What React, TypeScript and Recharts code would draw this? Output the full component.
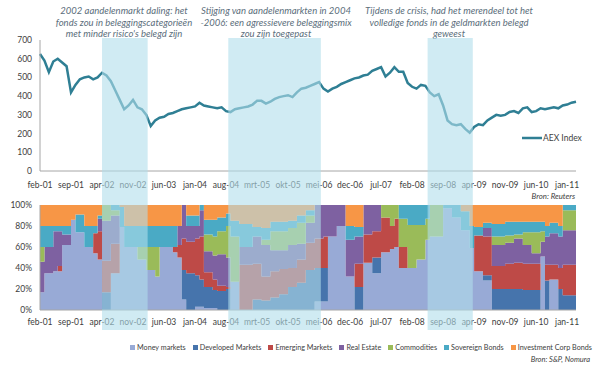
import { Area, AreaChart, ComposedChart, Line, LineChart, ReferenceArea, XAxis, YAxis } from "recharts";

const FONT = "Lato, 'Open Sans', sans-serif";

// x-axis: month index, 0 = feb-01
const tickMonths = [0, 7, 14, 21, 28, 35, 42, 49, 56, 63, 70, 77, 84, 91, 98, 105, 112, 119];
const tickLabels = [
  "feb-01", "sep-01", "apr-02", "nov-02", "jun-03", "jan-04", "aug-04", "mrt-05", "okt-05",
  "mei-06", "dec-06", "jul-07", "feb-08", "sep-08", "apr-09", "nov-09", "jun-10", "jan-11"
];

// AEX index, monthly from feb-01
const aexValues = [
  625, 590, 528, 585, 600, 580, 560, 420, 460, 490, 500, 505,
  490, 500, 525, 510, 480, 430, 380, 330, 350, 380, 340, 330,
  300, 240, 270, 285, 290, 305, 310, 320, 330, 335, 340, 345,
  365, 350, 345, 340, 335, 340, 320, 315, 330, 335, 340, 345,
  355, 375, 375, 360, 370, 385, 395, 400, 405, 395, 420, 440,
  445, 455, 465, 475, 440, 425, 440, 450, 465, 475, 485, 495,
  500, 510, 515, 535, 545, 555, 505, 525, 555, 530, 530, 470,
  450, 440, 460, 455, 420, 400, 410, 350, 270, 250, 245, 250,
  225, 205, 235, 250, 245, 270, 285, 300, 295, 300, 315, 320,
  310, 335, 340, 315, 320, 335, 330, 335, 340, 335, 350, 355,
  365, 370
];

// crisis / strategy periods (month index)
const periodStart = [14, 42.5, 87.5];
const periodEnd = [24.3, 63.4, 97.7];

// allocation (%), step changes at these months
const allocMonths = [
  0, 1, 3, 4, 5, 7, 8, 10, 12, 13, 14, 16, 18, 19, 22, 24, 26, 27, 30, 31, 32, 33, 35, 36, 37, 39,
  40, 42, 43, 45, 48, 50, 52, 54, 56, 58, 60, 62, 64, 65, 67, 69, 71, 73, 75, 77, 79, 80, 81, 83,
  85, 87, 88, 91, 93, 95, 97, 98, 100, 102, 105, 107, 109, 111, 113, 114, 115, 117, 118, 121
];
const moneyMarkets = [
  17, 35, 37, 37, 62, 86, 74, 60, 54, 48, 0, 35, 79, 60, 48, 38, 32, 60, 55, 50, 10, 0, 3, 3, 2, 2,
  0, 0, 27, 0, 0, 0, 0, 0, 0, 0, 0, 8, 8, 70, 80, 32, 0, 45, 35, 55, 58, 60, 40, 40,
  48, 67, 70, 97, 88, 76, 59, 37, 28, 0, 0, 0, 0, 0, 51, 0, 29, 0, 0, 0
];
const developedMarkets = [
  0, 0, 0, 0, 0, 0, 0, 0, 0, 0, 17, 0, 0, 0, 0, 0, 0, 0, 0, 0, 28, 35, 30, 26, 20, 17,
  18, 20, 0, 0, 10, 9, 12, 15, 22, 26, 38, 32, 32, 0, 0, 0, 22, 0, 15, 0, 0, 0, 0, 0,
  0, 0, 0, 0, 0, 0, 0, 0, 5, 20, 20, 20, 19, 19, 0, 28, 0, 20, 14, 14
];
const emergingMarkets = [
  0, 0, 0, 5, 0, 0, 0, 0, 19, 27, 30, 28, 0, 0, 0, 0, 0, 0, 5, 12, 30, 30, 35, 41, 14, 10,
  5, 2, 0, 43, 34, 23, 25, 24, 18, 22, 26, 28, 30, 0, 0, 0, 22, 27, 25, 33, 22, 27, 20, 0,
  0, 0, 0, 0, 0, 0, 0, 34, 37, 22, 24, 25, 25, 25, 0, 15, 14, 20, 29, 29
];
const realEstate = [
  29, 25, 38, 33, 10, 0, 0, 0, 0, 12, 38, 27, 0, 0, 0, 0, 0, 0, 0, 18, 32, 15, 12, 25, 20, 23,
  30, 28, 0, 17, 26, 30, 20, 18, 22, 15, 19, 32, 30, 30, 20, 35, 26, 28, 25, 0, 0, 0, 0, 0,
  0, 0, 0, 0, 0, 0, 0, 0, 8, 20, 20, 23, 18, 10, 14, 27, 30, 30, 33, 33
];
const commodities = [
  14, 0, 0, 0, 0, 0, 0, 0, 0, 0, 15, 5, 0, 0, 12, 22, 28, 0, 0, 0, 0, 0, 0, 0, 16, 18,
  22, 30, 43, 0, 0, 5, 18, 18, 16, 20, 7, 0, 0, 0, 0, 0, 0, 0, 0, 12, 20, 13, 27, 41,
  33, 20, 30, 0, 0, 0, 0, 0, 0, 8, 7, 4, 12, 20, 10, 0, 0, 0, 19, 19
];
const sovereignBonds = [
  20, 20, 5, 5, 8, 0, 17, 20, 7, 3, 0, 5, 19, 20, 20, 20, 20, 20, 20, 0, 0, 10, 10, 5, 14, 16,
  13, 12, 15, 22, 9, 11, 9, 9, 7, 7, 5, 0, 0, 0, 0, 13, 9, 0, 0, 0, 0, 0, 13, 19,
  19, 13, 0, 3, 12, 18, 21, 8, 5, 12, 13, 12, 10, 10, 9, 10, 10, 10, 5, 5
];
const investmentCorpBonds = [
  20, 20, 20, 20, 20, 14, 9, 20, 20, 10, 0, 0, 2, 20, 20, 20, 20, 20, 20, 20, 0, 10, 10, 0, 14, 14,
  12, 8, 15, 18, 21, 22, 16, 16, 15, 10, 5, 0, 0, 0, 0, 20, 21, 0, 0, 0, 0, 0, 0, 0,
  0, 0, 0, 0, 0, 6, 20, 21, 17, 18, 16, 16, 16, 16, 16, 20, 17, 20, 0, 0
];

const seriesNames = [
  "Money markets", "Developed Markets", "Emerging Markets", "Real Estate",
  "Commodities", "Sovereign Bonds", "Investment Corp Bonds"
];
const seriesKeys = ["mm", "dm", "em", "re", "co", "sb", "ic"];
const seriesColors = ["#98AAD6", "#4674AC", "#BE4A47", "#7E61A1", "#9ABB59", "#4AAAC5", "#F79646"];
const seriesValues = [
  moneyMarkets, developedMarkets, emergingMarkets, realEstate, commodities, sovereignBonds, investmentCorpBonds
];

const aexData = aexValues.map((v, i) => ({ month: i, aex: v }));
const allocData = allocMonths.map((m, i) => {
  const row: Record<string, number> = { month: m };
  seriesKeys.forEach((k, j) => {
    row[k] = seriesValues[j][i];
  });
  return row;
});

const fmtTick = (m: number) => tickLabels[tickMonths.indexOf(m)] ?? "";
const axisColor = "#A6A6A6";
const tickStyle = { fill: "#404040", fontSize: 8.5, fontFamily: FONT };
const noteStyle: React.CSSProperties = {
  position: "absolute",
  top: 5,
  textAlign: "center",
  fontStyle: "italic",
  fontSize: 9.5,
  lineHeight: "11.7px",
  color: "#5B6E7B",
  fontFamily: FONT,
  whiteSpace: "nowrap",
  transform: "translateX(-50%)"
};

export default function App() {
  return (
    <div style={{ position: "absolute", left: 0, top: 0, width: 607, height: 368, background: "#fff", fontFamily: FONT }}>
      <div style={{ ...noteStyle, left: 124 }}>
        2002 aandelenmarkt daling: het
        <br />
        fonds zou in beleggingscategorieën
        <br />
        met minder risico's belegd zijn
      </div>
      <div style={{ ...noteStyle, left: 276 }}>
        Stijging van aandelenmarkten in 2004
        <br />
        -2006: een agressievere beleggingsmix
        <br />
        zou zijn toegepast
      </div>
      <div style={{ ...noteStyle, left: 449 }}>
        Tijdens de crisis, had het merendeel tot het
        <br />
        volledige fonds in de geldmarkten belegd
        <br />
        geweest
      </div>

      <div style={{ position: "absolute", left: 0, top: 0 }}>
        <LineChart width={607} height={200} data={aexData} margin={{ top: 40, right: 31, left: 0, bottom: 0 }}>
          <XAxis
            dataKey="month"
            type="number"
            domain={[0, 121]}
            ticks={tickMonths}
            interval={0}
            tickFormatter={fmtTick}
            tickLine={false}
            tickMargin={5}
            stroke={axisColor}
            tick={tickStyle}
            height={29}
          />
          <YAxis
            domain={[0, 700]}
            ticks={[0, 100, 200, 300, 400, 500, 600, 700]}
            width={40}
            tickLine={false}
            stroke={axisColor}
            tick={tickStyle}
          />
          <Line dataKey="aex" type="linear" stroke="#2F7F94" strokeWidth={2.5} dot={false} isAnimationActive={false} />
        </LineChart>
      </div>

      <div style={{ position: "absolute", left: 522, top: 133, display: "flex", alignItems: "center", fontSize: 8.5, color: "#404040" }}>
        <svg width={20} height={6}>
          <line x1={0} y1={3} x2={20} y2={3} stroke="#2F7F94" strokeWidth={2.5} />
        </svg>
        <span style={{ marginLeft: 1 }}>AEX Index</span>
      </div>
      <div style={{ position: "absolute", right: 32, top: 191, fontSize: 7.8, fontStyle: "italic", color: "#404040" }}>
        Bron: Reuters
      </div>

      <div style={{ position: "absolute", left: 0, top: 195 }}>
        <AreaChart
          width={607}
          height={140}
          data={allocData}
          stackOffset="expand"
          margin={{ top: 10, right: 31, left: 0, bottom: 0 }}
        >
          <XAxis
            dataKey="month"
            type="number"
            domain={[0, 121]}
            ticks={tickMonths}
            interval={0}
            tickFormatter={fmtTick}
            tickLine={false}
            tickMargin={3}
            stroke={axisColor}
            tick={tickStyle}
            height={25}
          />
          <YAxis
            domain={[0, 1]}
            ticks={[0, 0.2, 0.4, 0.6, 0.8, 1]}
            tickFormatter={(v: number) => `${Math.round(v * 100)}%`}
            width={40}
            tickLine={false}
            stroke={axisColor}
            tick={tickStyle}
          />
          {seriesKeys.map((k, i) => (
            <Area
              key={k}
              dataKey={k}
              name={seriesNames[i]}
              stackId="alloc"
              type="stepAfter"
              stroke="none"
              fill={seriesColors[i]}
              fillOpacity={1}
              isAnimationActive={false}
            />
          ))}
        </AreaChart>
      </div>

      <div style={{ position: "absolute", left: 130, top: 343, display: "flex", gap: 7, fontSize: 7.2, color: "#404040" }}>
        {seriesNames.map((n, i) => (
          <div key={n} style={{ display: "flex", alignItems: "center", whiteSpace: "nowrap" }}>
            <span style={{ display: "inline-block", width: 5, height: 5, background: seriesColors[i], marginRight: 2 }} />
            {n}
          </div>
        ))}
      </div>
      <div style={{ position: "absolute", right: 17, top: 355, fontSize: 7.5, fontStyle: "italic", color: "#404040" }}>
        Bron: S&amp;P, Nomura
      </div>

      <div style={{ position: "absolute", left: 0, top: 0, pointerEvents: "none" }}>
        <ComposedChart width={607} height={368} data={aexData} margin={{ top: 38, right: 31, left: 40, bottom: 38 }}>
          <XAxis dataKey="month" type="number" domain={[0, 121]} hide />
          <YAxis domain={[0, 700]} hide />
          <Line dataKey="aex" stroke="none" dot={false} activeDot={false} isAnimationActive={false} />
          {periodStart.map((s, i) => (
            <ReferenceArea
              key={i}
              x1={s}
              x2={periodEnd[i]}
              y1={0}
              y2={700}
              fill="#B0DDEB"
              fillOpacity={0.6}
              stroke="none"
              ifOverflow="visible"
            />
          ))}
        </ComposedChart>
      </div>
    </div>
  );
}
